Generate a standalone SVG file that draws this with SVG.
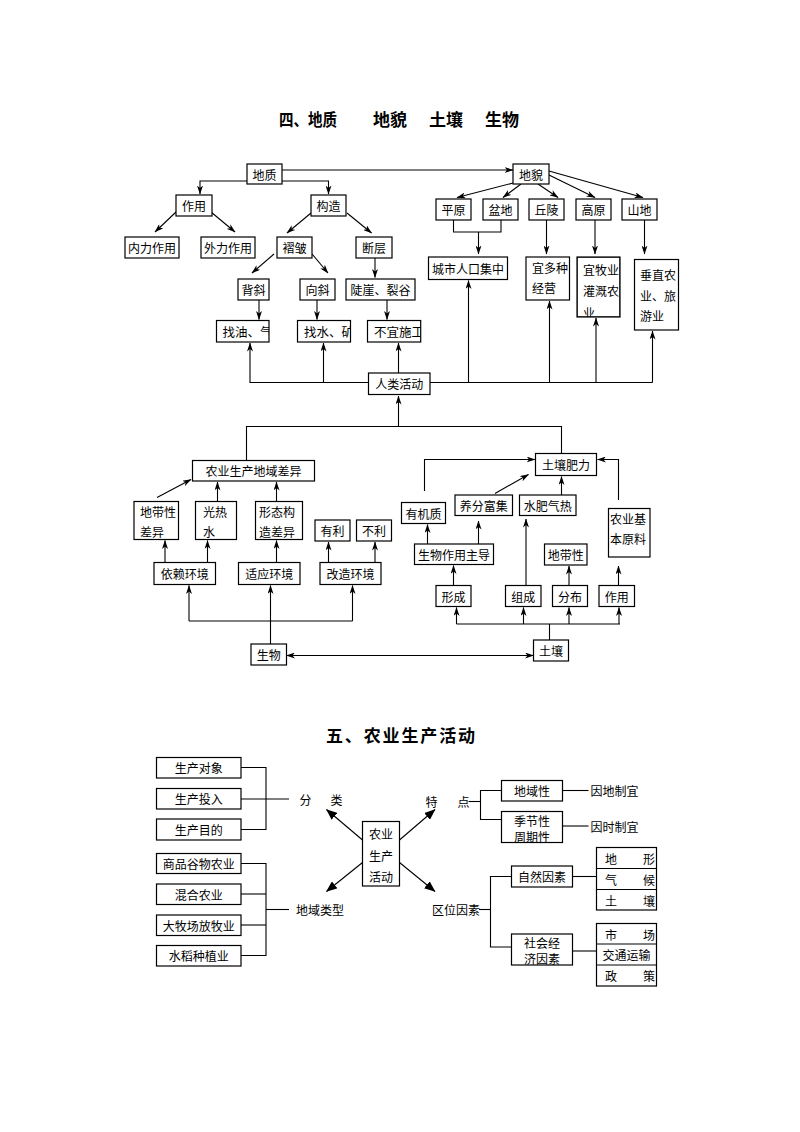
<svg xmlns="http://www.w3.org/2000/svg" width="800" height="1132" viewBox="0 0 800 1132">
<style>
.b{fill:#fff;stroke:#000;stroke-width:1.2}
.t{font-family:"Noto Sans CJK SC","Noto Sans",sans-serif;font-size:12px;fill:#000}
.c{text-anchor:middle;dominant-baseline:central}
.s{dominant-baseline:central}
.h{font-family:"Noto Sans CJK SC","Noto Sans",sans-serif;font-weight:bold;font-size:17px;fill:#000;dominant-baseline:central}
.l{fill:none;stroke:#000;stroke-width:1.1}
.a{marker-end:url(#ah)}
.f{marker-end:url(#fh)}
</style>
<defs>
<marker id="ah" markerUnits="userSpaceOnUse" markerWidth="9" markerHeight="6" refX="8.5" refY="3" orient="auto"><path d="M0,0 L9,3 L0,6 L2.5,3 Z" fill="#000"/></marker>
<marker id="ah2" markerUnits="userSpaceOnUse" markerWidth="9" markerHeight="6" refX="8.5" refY="3" orient="auto-start-reverse"><path d="M0,0 L9,3 L0,6 L2.5,3 Z" fill="#000"/></marker>
<marker id="fh" markerUnits="userSpaceOnUse" markerWidth="11" markerHeight="9" refX="10.5" refY="4.5" orient="auto"><path d="M0,0 L11,4.5 L0,9 Z" fill="#000"/></marker>
<clipPath id="k1"><rect x="216.5" y="320.5" width="52.5" height="21.5"/></clipPath>
<clipPath id="k2"><rect x="297.5" y="320.5" width="53" height="21.5"/></clipPath>
<clipPath id="k3"><rect x="367.5" y="320.5" width="53.2" height="21.5"/></clipPath>
<clipPath id="k4"><rect x="577" y="257" width="43" height="60"/></clipPath>
</defs>

<g id="title1">
<text class="h" x="279" y="118.5" textLength="58" lengthAdjust="spacingAndGlyphs">四、地质</text>
<text class="h" x="373" y="118.5">地貌</text>
<text class="h" x="429" y="118.5">土壤</text>
<text class="h" x="485" y="118.5">生物</text>
</g>
<text id="title2" class="h" x="326" y="734" textLength="149">五、农业生产活动</text>

<g id="connectors">
<line class="l a" x1="282" y1="170" x2="513" y2="170"/>
<polyline class="l a" points="247,181 200,181 200,194"/>
<polyline class="l a" points="282,181 328.5,181 328.5,194"/>
<line class="l a" x1="176" y1="212" x2="155" y2="232"/>
<line class="l a" x1="211" y1="212" x2="235" y2="232"/>
<line class="l a" x1="311" y1="213" x2="287" y2="233"/>
<line class="l a" x1="347" y1="213" x2="371.5" y2="233"/>
<line class="l a" x1="274" y1="254" x2="252" y2="273"/>
<line class="l a" x1="312" y1="254" x2="328" y2="273"/>
<line class="l a" x1="375" y1="258" x2="375" y2="277.5"/>
<line class="l a" x1="259" y1="300" x2="259" y2="319.5"/>
<line class="l a" x1="317" y1="300" x2="317" y2="319.5"/>
<line class="l a" x1="387" y1="300" x2="387" y2="319.5"/>
<polyline class="l a" points="368.5,382.5 250,382.5 250,343"/>
<line class="l a" x1="323.5" y1="382.5" x2="323.5" y2="343"/>
<line class="l a" x1="398.5" y1="373" x2="398.5" y2="343"/>
<line class="l" x1="430" y1="382.5" x2="652.5" y2="382.5"/>
<line class="l a" x1="468.5" y1="382.5" x2="468.5" y2="280.5"/>
<line class="l a" x1="549.5" y1="382.5" x2="549.5" y2="301"/>
<line class="l a" x1="596" y1="382.5" x2="596" y2="318"/>
<line class="l a" x1="652.5" y1="382.5" x2="652.5" y2="331"/>
<line class="l a" x1="515" y1="182.5" x2="457" y2="197.5"/>
<line class="l a" x1="521" y1="184" x2="503" y2="197.5"/>
<line class="l a" x1="538" y1="184" x2="558" y2="197.5"/>
<line class="l a" x1="549" y1="175" x2="595" y2="197.5"/>
<line class="l a" x1="549" y1="171" x2="643" y2="197.5"/>
<polyline class="l" points="453.5,220 453.5,232 501,232 501,220"/>
<line class="l a" x1="478.5" y1="232" x2="478.5" y2="254"/>
<line class="l a" x1="546.5" y1="220" x2="546.5" y2="254"/>
<line class="l a" x1="595" y1="220" x2="595" y2="254"/>
<line class="l a" x1="644.5" y1="220" x2="644.5" y2="254"/>

<line class="l a" x1="398.5" y1="426.5" x2="398.5" y2="396"/>
<polyline class="l" points="246.5,460.5 246.5,426.5 561.5,426.5 561.5,453.5"/>
<line class="l a" x1="157" y1="497.5" x2="191" y2="479.5"/>
<line class="l a" x1="217.5" y1="501.5" x2="217.5" y2="482"/>
<line class="l a" x1="276.5" y1="501.5" x2="276.5" y2="482"/>
<line class="l a" x1="165" y1="562.5" x2="165" y2="540.5"/>
<line class="l a" x1="207.5" y1="562.5" x2="207.5" y2="540.5"/>
<line class="l a" x1="276.5" y1="562.5" x2="276.5" y2="540.5"/>
<line class="l a" x1="328.5" y1="562.5" x2="328.5" y2="542"/>
<line class="l a" x1="375" y1="562.5" x2="375" y2="542"/>
<line class="l" x1="189" y1="621" x2="352.5" y2="621"/>
<line class="l a" x1="189" y1="621" x2="189" y2="585.5"/>
<line class="l a" x1="352.5" y1="621" x2="352.5" y2="585.5"/>
<line class="l a" x1="270.5" y1="644" x2="270.5" y2="585.5"/>
<line class="l" x1="286.5" y1="655.5" x2="533.5" y2="655.5" marker-start="url(#ah2)" marker-end="url(#ah2)"/>

<polyline class="l a" points="424.5,491 424.5,459.5 535,459.5"/>
<line class="l a" x1="495" y1="493.5" x2="528.5" y2="474.5"/>
<line class="l a" x1="561.5" y1="495" x2="561.5" y2="476.5"/>
<polyline class="l a" points="618.5,500 618.5,459.5 597.5,459.5"/>
<line class="l a" x1="427.5" y1="544" x2="427.5" y2="524.5"/>
<line class="l a" x1="478.5" y1="544" x2="478.5" y2="521"/>
<line class="l a" x1="453.5" y1="585.5" x2="453.5" y2="565.5"/>
<line class="l a" x1="526" y1="585.5" x2="526" y2="519"/>
<line class="l a" x1="569" y1="585.5" x2="569" y2="566"/>
<line class="l a" x1="618.5" y1="585.5" x2="618.5" y2="566"/>
<line class="l" x1="456.5" y1="624" x2="620" y2="624"/>
<line class="l a" x1="456.5" y1="624" x2="456.5" y2="607.5"/>
<line class="l a" x1="523.5" y1="624" x2="523.5" y2="607.5"/>
<line class="l a" x1="569" y1="624" x2="569" y2="607.5"/>
<line class="l a" x1="619" y1="624" x2="619" y2="607.5"/>
<line class="l" x1="549.5" y1="640" x2="549.5" y2="624"/>

<polyline class="l" points="241,767.5 266,767.5 266,829.5 241,829.5"/>
<line class="l" x1="241" y1="799" x2="289" y2="799"/>
<polyline class="l" points="241,863.5 266,863.5 266,955.5 241,955.5"/>
<line class="l" x1="241" y1="894" x2="266" y2="894"/>
<line class="l" x1="241" y1="925" x2="266" y2="925"/>
<line class="l" x1="266" y1="909.5" x2="289" y2="909.5"/>
<line class="l f" x1="362.5" y1="840" x2="326.5" y2="809.5"/>
<line class="l f" x1="399.5" y1="840" x2="435" y2="809.5"/>
<line class="l f" x1="362.5" y1="862.5" x2="326.5" y2="891.5"/>
<line class="l f" x1="399.5" y1="862.5" x2="435" y2="891.5"/>
<line class="l" x1="468.5" y1="801.5" x2="480.5" y2="801.5"/>
<polyline class="l" points="501.5,790.5 480.5,790.5 480.5,819.5 501.5,819.5"/>
<line class="l" x1="562.5" y1="790.5" x2="588.5" y2="790.5"/>
<line class="l" x1="562.5" y1="826" x2="588.5" y2="826"/>
<line class="l" x1="479" y1="909.5" x2="490.5" y2="909.5"/>
<polyline class="l" points="511.5,876.5 490.5,876.5 490.5,947 511.5,947"/>
<line class="l" x1="572.5" y1="876.5" x2="596.5" y2="876.5"/>
<line class="l" x1="572.5" y1="951" x2="596.5" y2="951"/>
</g>

<g id="n-dizhi"><rect class="b" x="247" y="164" width="35" height="20"/><text class="t c" x="264.5" y="174">地质</text></g>
<g id="n-dimao"><rect class="b" x="513" y="164" width="36" height="20"/><text class="t c" x="531" y="174">地貌</text></g>
<g id="n-zuoyong"><rect class="b" x="176" y="195" width="36" height="21"/><text class="t c" x="194" y="205.5">作用</text></g>
<g id="n-gouzao"><rect class="b" x="311" y="195" width="35" height="21"/><text class="t c" x="328.5" y="205.5">构造</text></g>
<g id="n-neili"><rect class="b" x="125" y="237" width="54" height="21"/><text class="t c" x="152" y="247.5">内力作用</text></g>
<g id="n-waili"><rect class="b" x="201" y="237" width="54" height="21"/><text class="t c" x="228" y="247.5">外力作用</text></g>
<g id="n-zhezhou"><rect class="b" x="277" y="237" width="35" height="21"/><text class="t c" x="294.5" y="247.5">褶皱</text></g>
<g id="n-duanceng"><rect class="b" x="356" y="237" width="36" height="21"/><text class="t c" x="374" y="247.5">断层</text></g>
<g id="n-beixie"><rect class="b" x="238" y="279" width="31" height="21"/><text class="t c" x="253.5" y="289.5">背斜</text></g>
<g id="n-xiangxie"><rect class="b" x="300" y="279" width="35" height="21"/><text class="t c" x="317.5" y="289.5">向斜</text></g>
<g id="n-douya"><rect class="b" x="346" y="279" width="69" height="21"/><text class="t c" x="380.5" y="289.5">陡崖、裂谷</text></g>
<g id="n-zhaoyou"><rect class="b" x="216.5" y="320.5" width="52.5" height="21.5"/><text class="t s" x="222.5" y="331.5" clip-path="url(#k1)" style="font-size:12.5px">找油、气</text></g>
<g id="n-zhaoshui"><rect class="b" x="297.5" y="320.5" width="53" height="21.5"/><text class="t s" x="304" y="331.5" clip-path="url(#k2)" style="font-size:12.5px">找水、矿</text></g>
<g id="n-buyi"><rect class="b" x="367.5" y="320.5" width="53.2" height="21.5"/><text class="t s" x="374" y="331.5" clip-path="url(#k3)" style="font-size:12.5px">不宜施工</text></g>
<g id="n-renlei"><rect class="b" x="368.5" y="373" width="61.5" height="21.5"/><text class="t c" x="399.25" y="383.75">人类活动</text></g>
<g id="n-pingyuan"><rect class="b" x="436" y="199" width="35" height="21"/><text class="t c" x="453.5" y="209.5">平原</text></g>
<g id="n-pendi"><rect class="b" x="483" y="199" width="35" height="21"/><text class="t c" x="500.5" y="209.5">盆地</text></g>
<g id="n-qiuling"><rect class="b" x="529" y="199" width="35" height="21"/><text class="t c" x="546.5" y="209.5">丘陵</text></g>
<g id="n-gaoyuan"><rect class="b" x="576" y="199" width="35" height="21"/><text class="t c" x="593.5" y="209.5">高原</text></g>
<g id="n-shandi"><rect class="b" x="622" y="199" width="35" height="21"/><text class="t c" x="639.5" y="209.5">山地</text></g>
<g id="n-chengshi"><rect class="b" x="428.5" y="257" width="79" height="22.5"/><text class="t c" x="468" y="268.25">城市人口集中</text></g>
<g id="n-yiduo"><rect class="b" x="526" y="257" width="43.5" height="43"/><text class="t s" x="532" y="267">宜多种</text><text class="t s" x="532" y="287">经营</text></g>
<g id="n-yimu"><g clip-path="url(#k4)"><rect class="b" x="577" y="257" width="43" height="60"/><text class="t s" x="583" y="269.5">宜牧业</text><text class="t s" x="583" y="290.5">灌溉农</text><text class="t s" x="583" y="312">业</text></g><rect class="l" x="577" y="257" width="43" height="60" style="stroke-width:1.2"/></g>
<g id="n-chuizhi"><rect class="b" x="634.5" y="259.5" width="44" height="70.5"/><text class="t s" x="640" y="274">垂直农</text><text class="t s" x="640" y="295">业、旅</text><text class="t s" x="640" y="315.5">游业</text></g>

<g id="n-nongye"><rect class="b" x="192.5" y="460.5" width="122" height="20.5"/><text class="t c" x="253.5" y="470.75">农业生产地域差异</text></g>
<g id="n-didaixing1"><rect class="b" x="134" y="501.5" width="44.5" height="38"/><text class="t s" x="140" y="511">地带性</text><text class="t s" x="140" y="531.5">差异</text></g>
<g id="n-guangre"><rect class="b" x="195.5" y="501.5" width="41" height="38"/><text class="t s" x="203" y="511">光热</text><text class="t s" x="203" y="531.5">水</text></g>
<g id="n-xingtai"><rect class="b" x="255.5" y="501.5" width="47" height="38"/><text class="t s" x="259" y="511">形态构</text><text class="t s" x="259" y="531.5">造差异</text></g>
<g id="n-youli"><rect class="b" x="315" y="520" width="35" height="21"/><text class="t c" x="332.5" y="530.5">有利</text></g>
<g id="n-buli"><rect class="b" x="356.5" y="520" width="35" height="21"/><text class="t c" x="374" y="530.5">不利</text></g>
<g id="n-yilai"><rect class="b" x="154" y="562.5" width="61.5" height="22"/><text class="t c" x="184.75" y="573.5">依赖环境</text></g>
<g id="n-shiying"><rect class="b" x="238.5" y="562.5" width="61.5" height="22"/><text class="t c" x="269.25" y="573.5">适应环境</text></g>
<g id="n-gaizao"><rect class="b" x="320" y="562.5" width="61" height="22"/><text class="t c" x="350.5" y="573.5">改造环境</text></g>
<g id="n-shengwu"><rect class="b" x="251" y="644" width="35.5" height="21"/><text class="t c" x="268.75" y="654.5">生物</text></g>

<g id="n-feili"><rect class="b" x="535.5" y="453.5" width="61" height="22"/><text class="t c" x="566" y="464.5">土壤肥力</text></g>
<g id="n-youjizhi"><rect class="b" x="401.5" y="502.5" width="44" height="21"/><text class="t c" x="423.5" y="513">有机质</text></g>
<g id="n-yangfen"><rect class="b" x="455" y="495" width="57.5" height="20.5"/><text class="t c" x="483.75" y="505.25">养分富集</text></g>
<g id="n-shuifei"><rect class="b" x="519.5" y="495" width="56.5" height="20.5"/><text class="t c" x="547.75" y="505.25">水肥气热</text></g>
<g id="n-jiben"><rect class="b" x="608.5" y="508.5" width="41.5" height="48.5"/><text class="t s" x="610" y="518.5">农业基</text><text class="t s" x="610" y="538.5">本原料</text></g>
<g id="n-zhudao"><rect class="b" x="414.5" y="544" width="79" height="20.5"/><text class="t c" x="454" y="554.25">生物作用主导</text></g>
<g id="n-didaixing2"><rect class="b" x="544.5" y="544" width="42.5" height="21"/><text class="t c" x="565.75" y="554.5">地带性</text></g>
<g id="n-xingcheng"><rect class="b" x="436" y="585.5" width="35" height="21"/><text class="t c" x="453.5" y="596">形成</text></g>
<g id="n-zucheng"><rect class="b" x="505.5" y="585.5" width="35.5" height="21"/><text class="t c" x="523.25" y="596">组成</text></g>
<g id="n-fenbu"><rect class="b" x="552.5" y="585.5" width="35" height="21"/><text class="t c" x="570" y="596">分布</text></g>
<g id="n-zuoyong2"><rect class="b" x="599" y="585.5" width="35.5" height="21"/><text class="t c" x="616.75" y="596">作用</text></g>
<g id="n-turang"><rect class="b" x="533.5" y="640" width="35" height="21"/><text class="t c" x="551" y="650.5">土壤</text></g>

<g id="n-duixiang"><rect class="b" x="156.5" y="757.5" width="84.5" height="20.5"/><text class="t c" x="198.75" y="767.75">生产对象</text></g>
<g id="n-touru"><rect class="b" x="156.5" y="788.5" width="84.5" height="20.5"/><text class="t c" x="198.75" y="798.75">生产投入</text></g>
<g id="n-mudi"><rect class="b" x="156.5" y="819" width="84.5" height="21"/><text class="t c" x="198.75" y="829.5">生产目的</text></g>
<g id="n-fenlei"><text class="t c" x="305.5" y="799.5">分</text><text class="t c" x="336.5" y="799.5">类</text></g>
<g id="n-shangpin"><rect class="b" x="156.5" y="853.5" width="84.5" height="20"/><text class="t c" x="198.75" y="863.5">商品谷物农业</text></g>
<g id="n-hunhe"><rect class="b" x="156.5" y="884" width="84.5" height="20.5"/><text class="t c" x="198.75" y="894.25">混合农业</text></g>
<g id="n-damuchang"><rect class="b" x="156.5" y="915" width="84.5" height="20.5"/><text class="t c" x="198.75" y="925.25">大牧场放牧业</text></g>
<g id="n-shuidao"><rect class="b" x="156.5" y="945.5" width="84.5" height="20.5"/><text class="t c" x="198.75" y="955.75">水稻种植业</text></g>
<g id="n-diyuleixing"><text class="t c" x="320" y="909">地域类型</text></g>
<g id="n-huodong"><rect class="b" x="362.5" y="821.5" width="37" height="64.5"/><text class="t c" x="381" y="833.5">农业</text><text class="t c" x="381" y="855">生产</text><text class="t c" x="381" y="876.5">活动</text></g>
<g id="n-tedian"><text class="t c" x="431.5" y="801">特</text><text class="t c" x="463.5" y="801">点</text></g>
<g id="n-diyuxing"><rect class="b" x="501.5" y="780.5" width="61" height="20.5"/><text class="t c" x="532" y="790.75">地域性</text></g>
<g id="n-yindi"><text class="t s" x="590.5" y="790.75">因地制宜</text></g>
<g id="n-jijiexing"><rect class="b" x="501.5" y="811.5" width="61" height="31"/><text class="t c" x="532" y="820.5">季节性</text><text class="t c" x="532" y="836">周期性</text></g>
<g id="n-yinshi"><text class="t s" x="590.5" y="826">因时制宜</text></g>
<g id="n-quwei"><text class="t c" x="456" y="909.5">区位因素</text></g>
<g id="n-ziran"><rect class="b" x="511.5" y="866" width="61" height="21"/><text class="t c" x="542" y="876.5">自然因素</text></g>
<g id="n-shehui"><rect class="b" x="511.5" y="934" width="61" height="31"/><text class="t c" x="542" y="942.5">社会经</text><text class="t c" x="542" y="958.5">济因素</text></g>
<g id="n-table1"><rect class="b" x="596.5" y="847.5" width="60" height="62.5"/><line class="l" x1="596.5" y1="868.5" x2="656.5" y2="868.5"/><line class="l" x1="596.5" y1="889.5" x2="656.5" y2="889.5"/><text class="t c" x="611" y="858">地</text><text class="t c" x="649" y="858">形</text><text class="t c" x="611" y="879">气</text><text class="t c" x="649" y="879">候</text><text class="t c" x="611" y="900">土</text><text class="t c" x="649" y="900">壤</text></g>
<g id="n-table2"><rect class="b" x="596.5" y="923.5" width="60" height="62.5"/><line class="l" x1="596.5" y1="944" x2="656.5" y2="944"/><line class="l" x1="596.5" y1="965" x2="656.5" y2="965"/><text class="t c" x="611" y="934">市</text><text class="t c" x="649" y="934">场</text><text class="t c" x="626.5" y="954.5">交通运输</text><text class="t c" x="611" y="975.5">政</text><text class="t c" x="649" y="975.5">策</text></g>
</svg>
